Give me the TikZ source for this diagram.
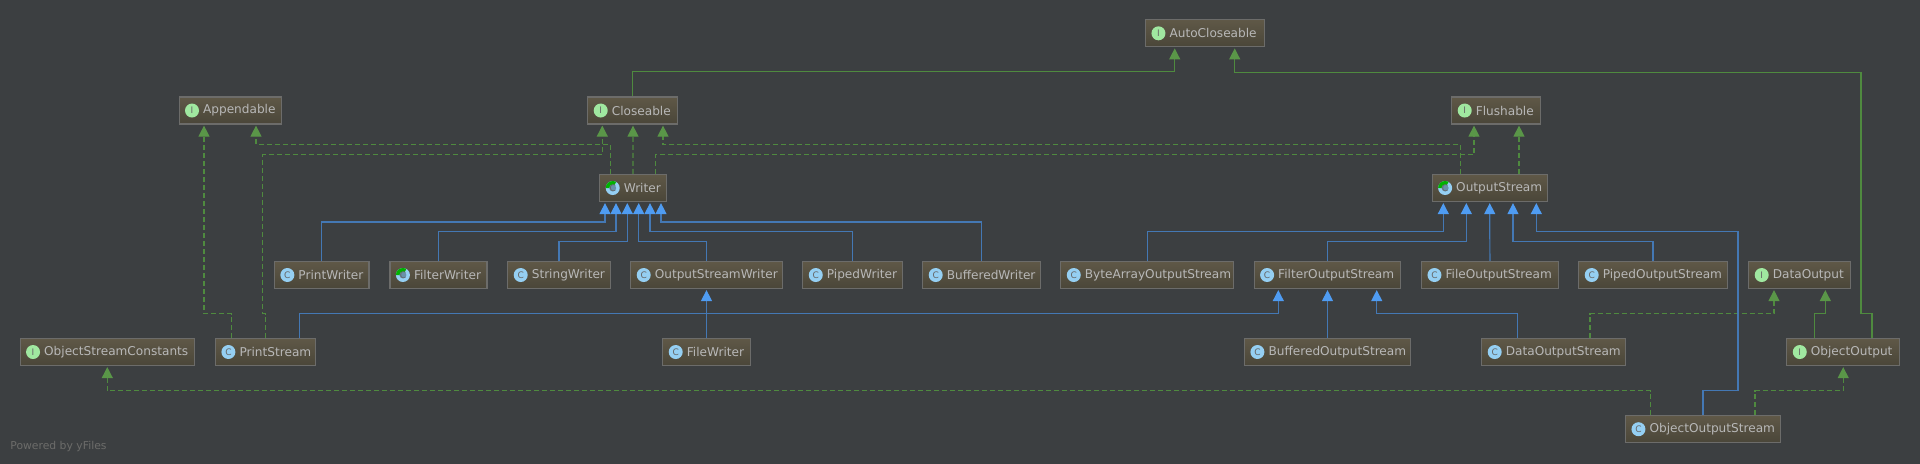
\documentclass[tikz,border=0pt]{standalone}
\usepackage{fontspec}
\usepackage{xcolor}
\usetikzlibrary{arrows.meta}
\setmainfont{DejaVu Sans}
\newlength{\px}
\setlength{\px}{0.5pt}
\definecolor{canvas}{HTML}{3C3F41}
\definecolor{boxtop}{HTML}{5F5847}
\definecolor{boxbot}{HTML}{4A4639}
\definecolor{boxline}{HTML}{6C6C6A}
\definecolor{boxtext}{HTML}{B8B8B8}
\definecolor{greenline}{HTML}{4F8A3F}
\definecolor{greentip}{HTML}{5A9648}
\definecolor{blueline}{HTML}{4478B4}
\definecolor{bluetip}{HTML}{4F9CF2}
\definecolor{iconI}{HTML}{A0E8A0}
\definecolor{iconC}{HTML}{95CFF2}
\tikzset{
  typebox/.style={draw=boxline,line width=1.2\px,top color=boxtop,bottom color=boxbot,
    text=boxtext,font=\fontsize{6.06pt}{7pt}\selectfont,minimum height=27\px,
    text width=#1\px,inner xsep=0pt,inner ysep=0pt,align=left,
    execute at begin node={\hyphenpenalty=10000\hspace*{24\px}}},
  icface/.style={circle,fill=#1,minimum size=14\px,inner sep=0pt,text=black!60,
    font=\fontsize{4.5pt}{4.5pt}\selectfont},
  absicon/.style={icface=#1,path picture={
    \fill[green!70!black] (path picture bounding box.center) -- ++(180:8\px) arc (180:60:8\px) -- cycle;
    \fill[#1!70!black] (path picture bounding box.center) circle (3.5\px);}},
  extends/.style={draw=blueline,line width=1.2\px,shorten >=1\px,
    -{Triangle[color=bluetip,width=5.5pt,length=5.5pt]}},
  inherit/.style={draw=greenline,line width=1.2\px,shorten >=1\px,
    -{Triangle[color=greentip,width=5.5pt,length=5.5pt]}},
  realize/.style={inherit,dash pattern=on 5\px off 3\px},
}
\begin{document}
\begin{tikzpicture}[x=\px,y=-\px]
\useasboundingbox (0,0) rectangle (1920,463);
\fill[canvas] (-5,-5) rectangle (1925,468);
% interfaces and classes
\node[typebox=118.7] (AutoCloseable) at (1204.9,33.3) {AutoCloseable};
\node[typebox=102] (Appendable) at (230.1,110.5) {Appendable};
\node[typebox=90] (Closeable) at (632.8,110.5) {Closeable};
\node[typebox=89] (Flushable) at (1496.3,110.5) {Flushable};
\node[typebox=66.4] (Writer) at (633,188) {Writer};
\node[typebox=115] (OutputStream) at (1489.7,188) {OutputStream};
\node[typebox=94.5] (PrintWriter) at (321.7,275) {PrintWriter};
\node[typebox=97] (FilterWriter) at (438.5,275) {FilterWriter};
\node[typebox=102.4] (StringWriter) at (559,275) {StringWriter};
\node[typebox=151.4] (OutputStreamWriter) at (706.5,275) {OutputStreamWriter};
\node[typebox=99.7] (PipedWriter) at (852.7,275) {PipedWriter};
\node[typebox=117.4] (BufferedWriter) at (981.5,275) {BufferedWriter};
\node[typebox=172.7] (ByteArrayOutputStream) at (1147.2,275) {ByteArrayOutputStream};
\node[typebox=146.6] (FilterOutputStream) at (1327.5,275) {FilterOutputStream};
\node[typebox=136.7] (FileOutputStream) at (1489.9,275) {FileOutputStream};
\node[typebox=148.4] (PipedOutputStream) at (1653,275) {PipedOutputStream};
\node[typebox=101.4] (DataOutput) at (1799.5,275) {DataOutput};
\node[typebox=174.3] (ObjectStreamConstants) at (107.3,352) {ObjectStreamConstants};
\node[typebox=100] (PrintStream) at (265.5,352) {PrintStream};
\node[typebox=87.4] (FileWriter) at (706.5,352) {FileWriter};
\node[typebox=166] (BufferedOutputStream) at (1327.5,352) {BufferedOutputStream};
\node[typebox=143.4] (DataOutputStream) at (1553.5,352) {DataOutputStream};
\node[typebox=112.7] (ObjectOutput) at (1843.2,352) {ObjectOutput};
\node[typebox=154.7] (ObjectOutputStream) at (1702.9,429.2) {ObjectOutputStream};
\node[text=boxline,font=\fontsize{5.4pt}{7pt}\selectfont,anchor=west,inner sep=0pt] (poweredby) at (10,447) {Powered by yFiles};
% type icons
\foreach \n in {AutoCloseable,Appendable,Closeable,Flushable,DataOutput,ObjectStreamConstants,ObjectOutput}
  \node[icface=iconI] (\n-icon) at ([xshift=13.5\px]\n.west) {I};
\foreach \n in {PrintWriter,StringWriter,OutputStreamWriter,PipedWriter,BufferedWriter,ByteArrayOutputStream,FilterOutputStream,FileOutputStream,PipedOutputStream,PrintStream,FileWriter,BufferedOutputStream,DataOutputStream,ObjectOutputStream}
  \node[icface=iconC] (\n-icon) at ([xshift=13.5\px]\n.west) {C};
\foreach \n in {Writer,OutputStream,FilterWriter}
  \node[absicon=iconC] (\n-icon) at ([xshift=13.5\px]\n.west) {C};
% solid green
\draw[inherit] (Closeable.north) -- ++(0,-24.7) -| ([xshift=-30.2\px]AutoCloseable.south);
\draw[inherit] ([xshift=28.8\px]ObjectOutput.north) -- ++(0,-24.3) -- ++(-11,0) -- ++(0,-241.4) -| ([xshift=29.8\px]AutoCloseable.south);
\draw[inherit] ([xshift=-28.5\px]ObjectOutput.north) -- ++(0,-24.3) -| ([xshift=25.8\px]DataOutput.south);
% dashed green
\draw[realize] ([xshift=-33.8\px]PrintStream.north) -- ++(0,-24.3) -| ([xshift=-26.1\px]Appendable.south);
\draw[realize] (PrintStream.north) -- ++(0,-24.3) -- ++(-2.7,0) -- ++(0,-159) -| ([xshift=-30.5\px]Closeable.south);
\draw[realize] ([xshift=-22.7\px]Writer.north) -- ++(0,-29.3) -| ([xshift=25.9\px]Appendable.south);
\draw[realize] (Writer.north) -- ([xshift=0.2\px]Closeable.south);
\draw[realize] ([xshift=22.3\px]Writer.north) -- ++(0,-19.3) -| ([xshift=-22.3\px]Flushable.south);
\draw[realize] ([xshift=-29\px]OutputStream.north) -- ++(0,-29.7) -| ([xshift=30.2\px]Closeable.south);
\draw[realize] ([xshift=29.3\px]OutputStream.north) -- ([xshift=22.7\px]Flushable.south);
\draw[realize] ([xshift=36.5\px]DataOutputStream.north) -- ++(0,-24.3) -| ([xshift=-25.5\px]DataOutput.south);
\draw[realize] ([xshift=52.1\px]ObjectOutputStream.north) -- ++(0,-24.3) -| (ObjectOutput.south);
\draw[realize] ([xshift=-52.2\px]ObjectOutputStream.north) -- ++(0,-24.3) -| (ObjectStreamConstants.south);
% blue, into Writer
\draw[extends] (PrintWriter.north) -- ++(0,-39) -| ([xshift=-28\px]Writer.south);
\draw[extends] (FilterWriter.north) -- ++(0,-29.3) -| ([xshift=-17\px]Writer.south);
\draw[extends] (StringWriter.north) -- ++(0,-19.7) -| ([xshift=-5.7\px]Writer.south);
\draw[extends] (OutputStreamWriter.north) -- ++(0,-19.7) -| ([xshift=5.7\px]Writer.south);
\draw[extends] (PipedWriter.north) -- ++(0,-29.3) -| ([xshift=17\px]Writer.south);
\draw[extends] (BufferedWriter.north) -- ++(0,-39) -| ([xshift=28\px]Writer.south);
\draw[extends] (FileWriter.north) -- (OutputStreamWriter.south);
% blue, into OutputStream
\draw[extends] (ByteArrayOutputStream.north) -- ++(0,-29.3) -| ([xshift=-46.4\px]OutputStream.south);
\draw[extends] (FilterOutputStream.north) -- ++(0,-19.7) -| ([xshift=-23.4\px]OutputStream.south);
\draw[extends] (FileOutputStream.north) -- (OutputStream.south);
\draw[extends] (PipedOutputStream.north) -- ++(0,-19.7) -| ([xshift=23.3\px]OutputStream.south);
\draw[extends] (ObjectOutputStream.north) -- ++(0,-24.3) -- ++(35,0) -- ++(0,-159.3) -| ([xshift=46.6\px]OutputStream.south);
% blue, into FilterOutputStream
\draw[extends] ([xshift=34.2\px]PrintStream.north) -- ++(0,-24.3) -| ([xshift=-49.2\px]FilterOutputStream.south);
\draw[extends] (BufferedOutputStream.north) -- (FilterOutputStream.south);
\draw[extends] ([xshift=-35.8\px]DataOutputStream.north) -- ++(0,-24.3) -| ([xshift=49.2\px]FilterOutputStream.south);
\end{tikzpicture}
\end{document}
